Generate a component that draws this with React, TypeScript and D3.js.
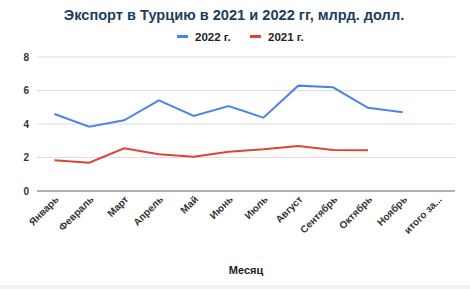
import React from "react";
import * as d3 from "d3";

const months = ["Январь","Февраль","Март","Апрель","Май","Июнь","Июль","Август","Сентябрь","Октябрь","Ноябрь","итого за..."];
const values2022: (number | null)[] = [4.6, 3.84, 4.22, 5.41, 4.48, 5.07, 4.38, 6.29, 6.19, 4.97, 4.7, null];
const values2021: (number | null)[] = [1.83, 1.69, 2.55, 2.19, 2.05, 2.35, 2.49, 2.69, 2.45, 2.43, null, null];
const yTicks = [0, 2, 4, 6, 8];
const seriesNames = ["2022 г.", "2021 г."];
const colors = ["#4a86e8", "#db4437"];

export default function App() {
  const W = 470, H = 289;
  const left = 37, right = 455, top = 57, bottom = 191;
  const x = d3.scaleBand<string>().domain(months).range([left, right]);
  const y = d3.scaleLinear().domain([0, 8]).range([bottom, top]);
  const line = d3.line<number | null>()
    .defined((d) => d !== null)
    .x((_, i) => (x(months[i]) as number) + x.bandwidth() / 2)
    .y((d) => y(d as number));
  const font = "Arial, 'Liberation Sans', sans-serif";
  return (
    <svg width={W} height={H} style={{ position: "absolute", left: 0, top: 0, fontFamily: font }}>
      <rect x={0} y={0} width={W} height={H} fill="#fff" />
      <rect x={0} y={285} width={W} height={4} fill="#f3f3f3" />
      <text x={234} y={20} textAnchor="middle" fontSize={14.6} fontWeight="bold" fill="#1c3d5e">
        Экспорт в Турцию в 2021 и 2022 гг, млрд. долл.
      </text>
      {seriesNames.map((n, i) => {
        const lx = i === 0 ? 177 : 250;
        return (
          <g key={n}>
            <rect x={lx} y={35} width={11} height={3} fill={colors[i]} />
            <text x={lx + 18} y={40.5} fontSize={11.5} fontWeight="bold" fill="#222">{n}</text>
          </g>
        );
      })}
      {yTicks.map((t) => (
        <g key={t}>
          <line x1={left} x2={right} y1={y(t)} y2={y(t)} stroke={t === 0 ? "#999" : "#ddd"} strokeWidth={t === 0 ? 1.5 : 1} />
          <text x={29} y={y(t) + 3.5} textAnchor="end" fontSize={10} fontWeight="bold" fill="#333">{t}</text>
        </g>
      ))}
      {months.map((m) => {
        const cx = (x(m) as number) + x.bandwidth() / 2 + 5;
        return (
          <text key={m} transform={`translate(${cx},${200}) rotate(-45)`} textAnchor="end" fontSize={10} fontWeight="bold" fill="#333">{m}</text>
        );
      })}
      <path d={line(values2022) || ""} fill="none" stroke={colors[0]} strokeWidth={2} />
      <path d={line(values2021) || ""} fill="none" stroke={colors[1]} strokeWidth={2} />
      <text x={246} y={274} textAnchor="middle" fontSize={11} fontWeight="bold" fill="#222">Месяц</text>
    </svg>
  );
}
